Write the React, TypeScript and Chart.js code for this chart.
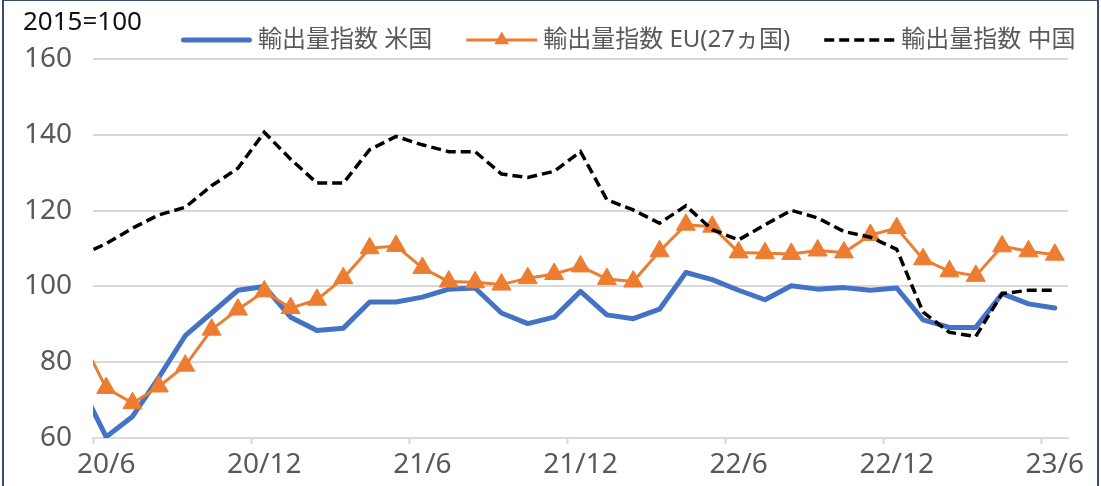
import React, { useEffect, useRef } from 'react';
import { Chart, registerables } from 'chart.js';

Chart.register(...registerables);

// Monthly categories (20/5 is only the lead-in point clipped at the left edge)
const months = [
  '20/5', '20/6', '20/7', '20/8', '20/9', '20/10', '20/11', '20/12',
  '21/1', '21/2', '21/3', '21/4', '21/5', '21/6', '21/7', '21/8', '21/9', '21/10', '21/11', '21/12',
  '22/1', '22/2', '22/3', '22/4', '22/5', '22/6', '22/7', '22/8', '22/9', '22/10', '22/11', '22/12',
  '23/1', '23/2', '23/3', '23/4', '23/5', '23/6',
];
const tickMonths = ['20/6', '20/12', '21/6', '21/12', '22/6', '22/12', '23/6'];

const usValues = [
  74.3, 60.3, 65.7, 76.0, 87.0, 93.0, 99.0, 100.0,
  91.9, 88.4, 89.0, 95.9, 95.9, 97.2, 99.3, 99.6, 93.0, 90.2, 91.9, 98.7,
  92.5, 91.5, 94.0, 103.7, 101.8, 99.0, 96.5, 100.2, 99.3, 99.7, 99.0, 99.6,
  91.2, 89.2, 89.2, 98.1, 95.4, 94.3,
];
const euValues = [
  86.9, 73.2, 69.2, 73.6, 79.1, 88.6, 93.9, 98.7,
  94.3, 96.5, 102.2, 110.1, 110.7, 104.9, 101.3, 101.1, 100.5, 102.2, 103.3, 105.3,
  102.0, 101.3, 109.3, 116.3, 115.8, 109.0, 108.8, 108.6, 109.5, 109.0, 113.6, 115.4,
  107.2, 104.0, 102.8, 110.6, 109.3, 108.4,
];
const cnValues = [
  108.2, 111.3, 115.4, 118.9, 120.9, 126.6, 131.2, 140.7,
  133.6, 127.3, 127.3, 136.1, 139.6, 137.4, 135.6, 135.6, 129.7, 128.8, 130.4, 135.6,
  122.9, 120.2, 116.7, 121.3, 115.0, 112.3, 116.3, 120.1, 118.1, 114.5, 113.0, 109.8,
  93.2, 87.9, 86.8, 98.1, 99.0, 99.0,
];

const seriesLabels = ['輸出量指数 米国', '輸出量指数 EU(27ヵ国)', '輸出量指数 中国'];
const unitLabel = '2015=100';

const FONT = "'Noto Sans', 'Noto Sans CJK JP', sans-serif";
const GRID = '#d9d9d9';
const TEXT = '#595959';

const sampleLegend = {
  id: 'sampleLegend',
  afterDraw(chart: any) {
    const o = chart.options.plugins.sampleLegend;
    const ctx = chart.ctx;
    let x = o.x;
    const y = o.y;
    ctx.save();
    ctx.font = `${o.fontSize}px ${FONT}`;
    ctx.textBaseline = 'middle';
    ctx.textAlign = 'left';
    chart.data.datasets.forEach((ds: any) => {
      const w = ds.borderWidth;
      const cap = ds.borderCapStyle || 'butt';
      const inset = cap === 'round' ? w / 2 : 0;
      ctx.beginPath();
      ctx.strokeStyle = ds.borderColor;
      ctx.lineWidth = w;
      ctx.lineCap = cap;
      ctx.setLineDash(ds.borderDash || []);
      ctx.moveTo(x + inset, y);
      ctx.lineTo(x + o.sampleWidth - inset, y);
      ctx.stroke();
      ctx.setLineDash([]);
      if (ds.pointStyle === 'triangle') {
        const r = o.markerRadius;
        const cx = x + o.sampleWidth / 2;
        ctx.beginPath();
        ctx.fillStyle = ds.borderColor;
        ctx.moveTo(cx, y - r);
        ctx.lineTo(cx + r * Math.sin((2 * Math.PI) / 3), y + r / 2);
        ctx.lineTo(cx - r * Math.sin((2 * Math.PI) / 3), y + r / 2);
        ctx.closePath();
        ctx.fill();
      }
      x += o.sampleWidth + o.textGap;
      ctx.fillStyle = TEXT;
      ctx.fillText(ds.label, x, y);
      x += ctx.measureText(ds.label).width + o.itemGap;
    });
    ctx.restore();
  },
};

export default function App() {
  const ref = useRef<HTMLCanvasElement | null>(null);

  useEffect(() => {
    if (!ref.current) return;
    Chart.defaults.font.family = FONT;
    const chart = new Chart(ref.current, {
      type: 'line',
      data: {
        labels: months,
        datasets: [
          {
            label: seriesLabels[0],
            data: usValues,
            borderColor: '#4472C4',
            backgroundColor: '#4472C4',
            borderWidth: 5,
            borderJoinStyle: 'round',
            borderCapStyle: 'round',
            pointRadius: 0,
            tension: 0,
            order: 3,
          },
          {
            label: seriesLabels[1],
            data: euValues,
            borderColor: '#ED7D31',
            backgroundColor: '#ED7D31',
            borderWidth: 3,
            borderJoinStyle: 'round',
            pointStyle: 'triangle',
            pointRadius: (c: any) => (c.dataIndex === 0 ? 0 : 11),
            pointBorderWidth: 1,
            pointBackgroundColor: '#ED7D31',
            pointBorderColor: '#ED7D31',
            tension: 0,
            order: 2,
          },
          {
            label: seriesLabels[2],
            data: cnValues,
            borderColor: '#000000',
            backgroundColor: '#000000',
            borderWidth: 3.5,
            borderDash: [10, 5],
            pointRadius: 0,
            tension: 0,
            order: 1,
          },
        ],
      } as any,
      options: {
        responsive: false,
        animation: false,
        events: [],
        layout: { padding: { left: 23, right: 33, top: 0, bottom: 0 } },
        plugins: {
          legend: { display: false },
          tooltip: { enabled: false },
          title: {
            display: true,
            text: unitLabel,
            align: 'start',
            color: '#111111',
            font: { size: 26, family: FONT, weight: 'normal' },
            padding: { top: 7, bottom: 21 },
          },
          sampleLegend: {
            x: 181,
            y: 40,
            fontSize: 24,
            sampleWidth: 71,
            textGap: 6,
            itemGap: 34,
            markerRadius: 8.5,
          },
        } as any,
        scales: {
          x: {
            type: 'category',
            min: '20/6',
            offset: true,
            grid: {
              display: true,
              offset: true,
              drawOnChartArea: false,
              drawTicks: true,
              tickLength: 6,
              tickWidth: 2,
              tickColor: (c: any) =>
                c.tick && tickMonths.includes(months[c.tick.value]) ? GRID : 'rgba(0,0,0,0)',
            },
            border: { display: true, color: GRID, width: 2 },
            ticks: {
              autoSkip: false,
              maxRotation: 0,
              padding: 4,
              color: TEXT,
              font: { size: 28, family: FONT },
              callback: (v: any) => (tickMonths.includes(months[v]) ? months[v] : ''),
            },
            afterFit: (s: any) => {
              s.height = 48;
            },
          },
          y: {
            min: 60,
            max: 160,
            ticks: {
              stepSize: 20,
              padding: 21,
              color: TEXT,
              font: { size: 28, family: FONT },
            },
            grid: { color: GRID, lineWidth: 2, drawTicks: false },
            border: { display: false },
            afterFit: (s: any) => {
              s.width = 70;
            },
          },
        },
      } as any,
      plugins: [sampleLegend],
    });
    return () => chart.destroy();
  }, []);

  return (
    <div
      style={{
        position: 'absolute',
        left: 0,
        top: 0,
        width: 1101,
        height: 486,
        overflow: 'hidden',
        background: '#ffffff',
      }}
    >
      <canvas ref={ref} width={1101} height={486} style={{ display: 'block' }} />
      <div
        style={{
          position: 'absolute',
          left: 2,
          top: -1,
          width: 1097,
          height: 492,
          border: '2px solid #3c4b6b',
          boxSizing: 'border-box',
          pointerEvents: 'none',
        }}
      />
    </div>
  );
}
